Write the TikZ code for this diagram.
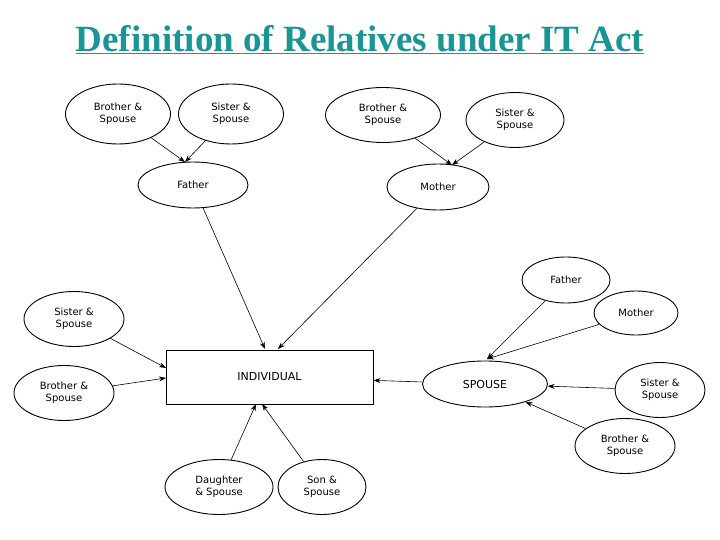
\documentclass[tikz,border=0pt]{standalone}
\usepackage{fontspec}
\setmainfont{Liberation Serif}
\setsansfont{DejaVu Sans}
\usetikzlibrary{shapes.geometric,arrows.meta}
\definecolor{teal1}{HTML}{1A9494}
\tikzset{
 el/.style={ellipse,draw,line width=0.9pt,inner sep=0pt,font=\sffamily\fontsize{10}{12}\selectfont,align=center},
 ar/.style={-{Stealth[length=7pt,width=5pt]},line width=0.6pt}
}
\begin{document}
\begin{tikzpicture}[x=1pt,y=-1pt]
\useasboundingbox (0,0) rectangle (720,540);
\node[font=\fontsize{37}{42}\selectfont\bfseries,text=teal1] (t) at (360,40) {\underline{Definition of Relatives under IT Act}};
\node[draw,line width=0.9pt,minimum width=207pt,minimum height=54pt,font=\sffamily\fontsize{11}{13}\selectfont] (ind) at (269.5,377) {INDIVIDUAL};
\node[el,minimum width=105pt,minimum height=60pt] (bs1) at (118,114) {Brother \&\\Spouse};
\node[el,minimum width=105pt,minimum height=60pt] (ss1) at (231,114) {Sister \&\\Spouse};
\node[el,minimum width=110pt,minimum height=46pt] (fa) at (193,185) {Father};
\node[el,minimum width=115pt,minimum height=55pt] (bs2) at (383,115) {Brother \&\\Spouse};
\node[el,minimum width=98pt,minimum height=55pt] (ss2) at (515,120) {Sister \&\\Spouse};
\node[el,minimum width=102pt,minimum height=46pt] (mo) at (438,187) {Mother};
\node[el,minimum width=100pt,minimum height=55pt] (ssl) at (74,319) {Sister \&\\Spouse};
\node[el,minimum width=100pt,minimum height=55pt] (bsl) at (64,393) {Brother \&\\Spouse};
\node[el,minimum width=108pt,minimum height=55pt] (ds) at (219,487) {Daughter\\\& Spouse};
\node[el,minimum width=88pt,minimum height=55pt] (so) at (322,487) {Son \&\\Spouse};
\node[el,minimum width=125pt,minimum height=46pt,font=\sffamily\fontsize{11}{13}\selectfont] (sp) at (485,384) {SPOUSE};
\node[el,minimum width=88pt,minimum height=46pt] (far) at (566,280) {Father};
\node[el,minimum width=84pt,minimum height=44pt] (mor) at (636,313) {Mother};
\node[el,minimum width=90pt,minimum height=55pt] (ssr) at (660,390) {Sister \&\\Spouse};
\node[el,minimum width=100pt,minimum height=55pt] (bsr) at (625,446) {Brother \&\\Spouse};
\coordinate (ft) at (185,162);
\coordinate (mt) at (452,165);
\coordinate (st) at (487,359);
\draw[ar] (bs1) -- (ft);
\draw[ar] (ss1) -- (ft);
\draw[ar] (bs2) -- (mt);
\draw[ar] (ss2) -- (mt);
\draw[ar] (fa) -- (265,349);
\draw[ar] (mo) -- (278,349);
\draw[ar] (ssl) -- (166,368);
\draw[ar] (bsl) -- (166,378);
\draw[ar] (ds) -- (256,404);
\draw[ar] (so) -- (262,404);
\draw[ar] (sp) -- (ind);
\draw[ar] (far) -- (st);
\draw[ar] (mor) -- (st);
\draw[ar] (ssr) -- (sp);
\draw[ar] (bsr) -- (sp);
\end{tikzpicture}
\end{document}
